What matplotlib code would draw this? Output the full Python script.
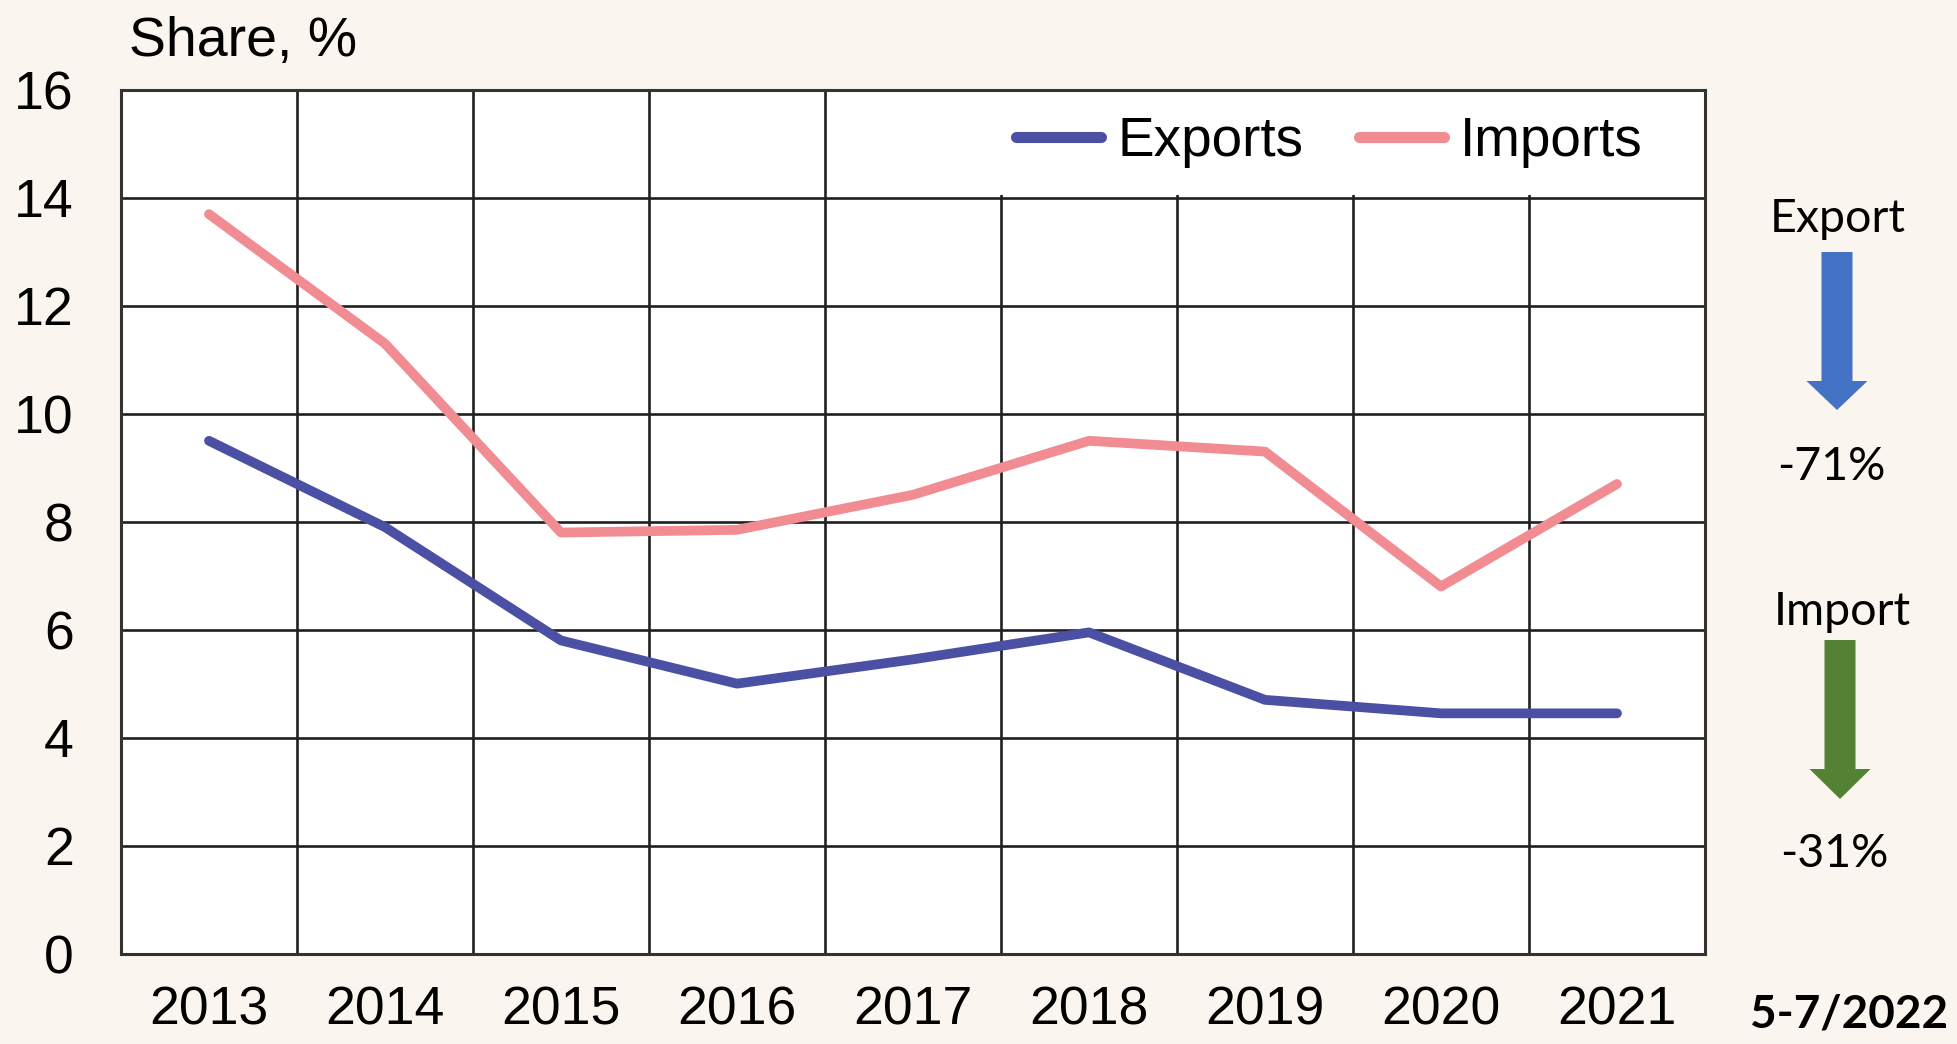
import matplotlib
matplotlib.use("Agg")
import matplotlib.pyplot as plt
from matplotlib.patches import Polygon

# Data: share of trade, %
years = ["2013", "2014", "2015", "2016", "2017", "2018", "2019", "2020", "2021"]
exports = [9.5, 7.9, 5.8, 5.0, 5.45, 5.95, 4.7, 4.45, 4.45]
imports = [13.7, 11.3, 7.8, 7.85, 8.5, 9.5, 9.3, 6.8, 8.7]
y_ticks = [0, 2, 4, 6, 8, 10, 12, 14, 16]

side_titles = ["Export", "Import"]
side_changes = ["-71%", "-31%"]
period_label = "5-7/2022"

BG = "#FAF5EF"
EXP_COLOR = "#4B50A5"
IMP_COLOR = "#F08C92"
GRID = "#1f1f1f"

W, H = 1957, 1044
fig = plt.figure(figsize=(W / 100, H / 100), dpi=100, facecolor=BG)

ax = fig.add_axes([121 / W, 1 - 953.5 / H, (1705 - 121) / W, (953.5 - 90) / H])
ax.set_facecolor("white")

x = list(range(len(years)))
ax.plot(x, exports, color=EXP_COLOR, lw=7, solid_joinstyle="round",
        solid_capstyle="round", label="Exports", zorder=3)
ax.plot(x, imports, color=IMP_COLOR, lw=7, solid_joinstyle="round",
        solid_capstyle="round", label="Imports", zorder=3)

ax.set_xlim(-0.5, len(years) - 0.5)
ax.set_ylim(0, 16)
ax.set_yticks(y_ticks)
ax.set_yticklabels([str(v) for v in y_ticks])
ax.set_xticks(x)
ax.set_xticklabels(years)
ax.set_xticks([i - 0.5 for i in range(len(years) + 1)], minor=True)

ax.grid(True, axis="x", which="minor", color=GRID, lw=1.9, zorder=1)
ax.grid(True, axis="y", which="major", color=GRID, lw=1.9, zorder=1)
ax.grid(False, axis="x", which="major")
ax.set_axisbelow(True)

ax.tick_params(axis="both", which="both", length=0)
ax.tick_params(axis="x", pad=23, labelsize=38.5)
ax.tick_params(axis="y", pad=34, labelsize=38.5)
for lab in ax.get_xticklabels() + ax.get_yticklabels():
    lab.set_fontfamily("Liberation Sans")

for sp in ax.spines.values():
    sp.set_color("#333333")
    sp.set_linewidth(2.2)
    sp.set_zorder(6)

leg = ax.legend(loc="upper right", bbox_to_anchor=(0.9775, 1.0), ncol=2,
                frameon=True, facecolor="white", edgecolor="none", framealpha=1,
                fancybox=False, borderaxespad=0, borderpad=0.48,
                handlelength=1.55, handletextpad=0.3, columnspacing=1.0,
                prop={"family": "Liberation Sans", "size": 39.5})
leg.set_zorder(5)
for line in leg.get_lines():
    line.set_linewidth(8)
    line.set_solid_capstyle("round")

fig.text(129 / W, 1 - 56 / H, "Share, %", fontsize=40,
         family="Liberation Sans", ha="left", va="baseline")

# Overlay in pixel units for the side annotations
ov = fig.add_axes([0, 0, 1, 1], facecolor="none")
ov.set_xlim(0, W)
ov.set_ylim(H, 0)
ov.axis("off")


def down_arrow(cx, top, head_start, tip, shaft_w, head_w, color):
    s, h = shaft_w / 2, head_w / 2
    pts = [(cx - s, top), (cx + s, top), (cx + s, head_start), (cx + h, head_start),
           (cx, tip), (cx - h, head_start), (cx - s, head_start)]
    ov.add_patch(Polygon(pts, closed=True, facecolor=color, edgecolor="none"))


down_arrow(1837, 252, 381, 410, 31, 61, "#4472C4")
down_arrow(1840, 640, 769, 799, 31, 61, "#548235")

side_font = dict(family="Lato", fontsize=33.5, ha="center", va="baseline", color="black")
ov.text(1838, 232, side_titles[0], **side_font)
ov.text(1831, 480, side_changes[0], **side_font)
ov.text(1842, 625, side_titles[1], **side_font)
ov.text(1834, 867, side_changes[1], **side_font)
ov.text(1849, 1027, period_label, family="Lato", fontsize=33, fontweight="bold",
        ha="center", va="baseline", color="black")

fig.savefig("out.png", dpi=100, facecolor=BG)
